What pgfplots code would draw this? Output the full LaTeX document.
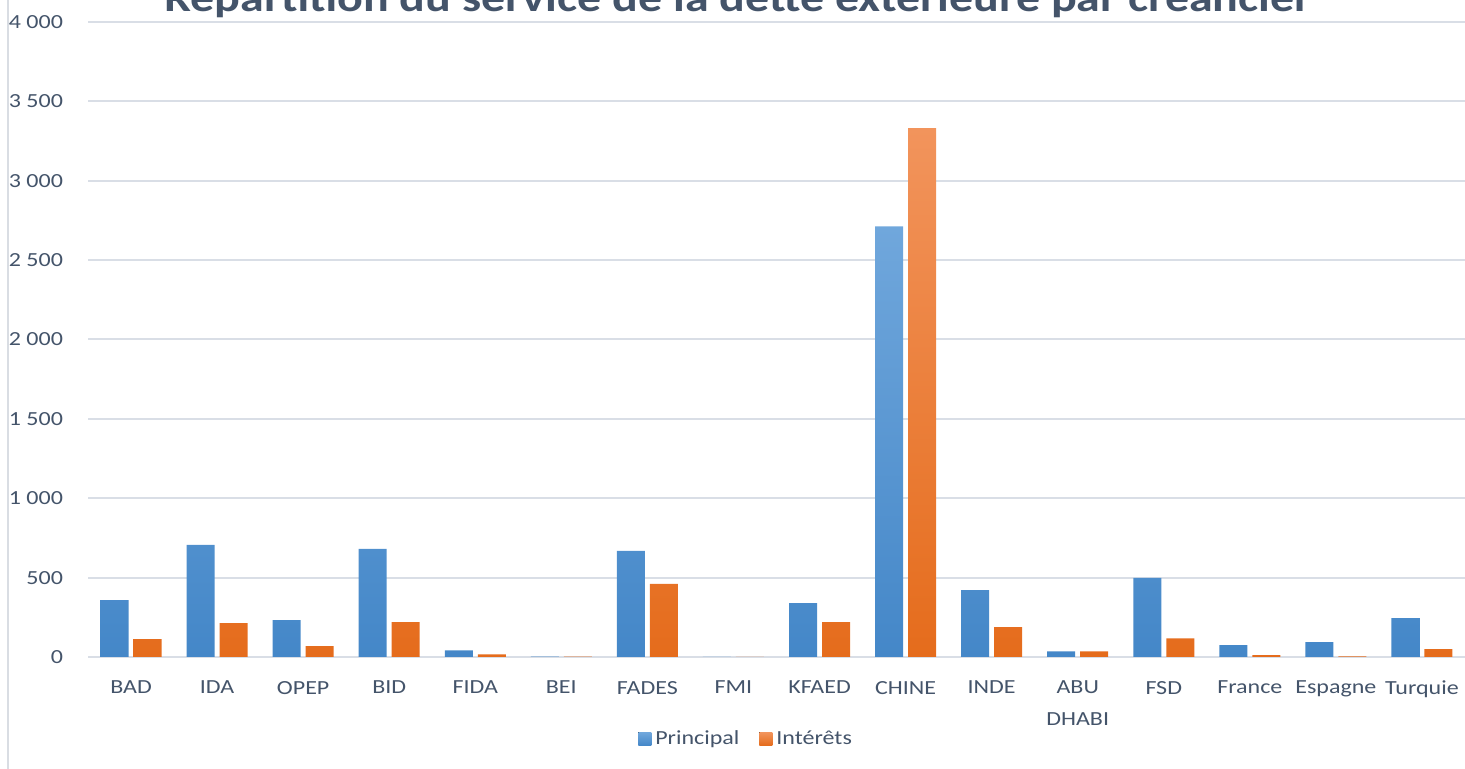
\documentclass[border=0pt]{standalone}
\usepackage{fontspec}
\setmainfont{Carlito}[FakeStretch=1.2]
\usepackage{pgfplots}
\pgfplotsset{compat=1.18}
\definecolor{txt}{HTML}{44546A}
\definecolor{gridc}{HTML}{D9DEE6}
\definecolor{framec}{HTML}{D9DDE3}
\definecolor{bluetop}{HTML}{70A7DC}
\definecolor{bluebot}{HTML}{4487C8}
\definecolor{orangetop}{HTML}{F2945C}
\definecolor{orangebot}{HTML}{E56C1C}
\pgfplotsset{
  sqlegend/.style={legend image code/.code={\fill[##1] (0pt,-3.25pt) rectangle (6.5pt,3.25pt);}},
}
\begin{document}
\begin{tikzpicture}
\useasboundingbox (0,0) rectangle (732.5pt,384.5pt);
\draw[color=framec, line width=1pt] (4pt,0) -- (4pt,384.5pt);
\node[anchor=base, font=\bfseries\fontsize{20}{24}\selectfont, text=txt, inner sep=0pt] at (369pt,378.5pt) {Répartition du service de la dette extérieure par créancier};
\begin{axis}[
  at={(44pt,56pt)}, anchor=south west,
  scale only axis, width=688.5pt, height=317.5pt,
  xmin=-0.5, xmax=15.5, ymin=0, ymax=4000,
  ybar=2.5pt, bar width=14pt,
  axis line style={draw=none},
  major tick length=0pt,
  ymajorgrids, grid style={color=gridc, line width=1pt},
  ytick={0,500,1000,1500,2000,2500,3000,3500,4000},
  yticklabels={0,500,1 000,1 500,2 000,2 500,3 000,3 500,4 000},
  xtick={0,...,15},
  xticklabels={BAD,IDA,OPEP,BID,FIDA,BEI,FADES,FMI,KFAED,CHINE,INDE,{ABU\\DHABI},FSD,France,Espagne,Turquie},
  xticklabel style={font=\fontsize{10}{16}\selectfont, text=txt, align=center, yshift=-8.5pt},
  yticklabel style={font=\fontsize{10}{13}\selectfont, text=txt, xshift=-9pt},
  legend style={at={(0.4786,-0.129)}, anchor=center, legend columns=2, draw=none, fill=none,
    font=\fontsize{10}{13}\selectfont, text=txt,
    /tikz/every even column/.append style={column sep=8pt}},
  clip=false,
]
\addplot[draw=none, top color=bluetop, bottom color=bluebot, sqlegend] coordinates {
(0,359) (1,706) (2,232) (3,681) (4,42) (5,3) (6,669) (7,0) (8,340) (9,2712) (10,422) (11,36) (12,498) (13,74) (14,93) (15,245)};
\addplot[draw=none, top color=orangetop, bottom color=orangebot, sqlegend] coordinates {
(0,112) (1,213) (2,68) (3,219) (4,17) (5,3) (6,460) (7,0) (8,219) (9,3331) (10,188) (11,36) (12,118) (13,11) (14,4) (15,49)};
\legend{Principal,Intérêts}
\end{axis}
\end{tikzpicture}
\end{document}
